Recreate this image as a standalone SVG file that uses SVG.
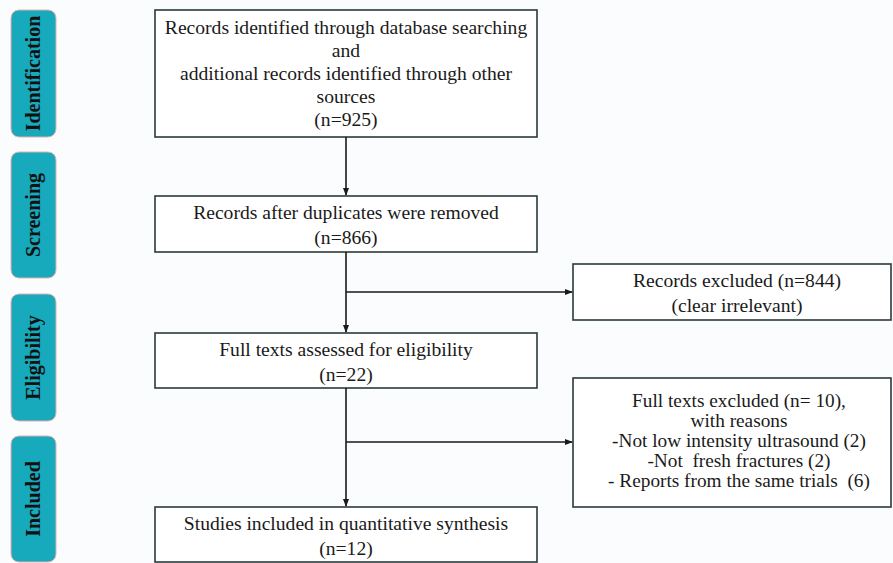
<svg xmlns="http://www.w3.org/2000/svg" width="893" height="563" viewBox="0 0 893 563">
<defs>
<marker id="ah" markerWidth="8" markerHeight="8" refX="7" refY="4" orient="auto" markerUnits="userSpaceOnUse">
<path d="M0,1 L8,4 L0,7 Z" fill="#1a1a1a"/>
</marker>
<style>
.stage{fill:#17a9bc;stroke:#e8b0b0;stroke-width:1}
.stxt{font-family:"Liberation Serif","Times New Roman",serif;font-weight:bold;font-size:20px;fill:#111;text-anchor:middle}
.box{fill:#ffffff;stroke:#2b3a3a;stroke-width:1.6}
.t{font-family:"Liberation Serif","Times New Roman",serif;font-size:19.6px;fill:#1a1a1a;text-anchor:middle}
.ts{font-family:"Liberation Serif","Times New Roman",serif;font-size:19.3px;fill:#1a1a1a;text-anchor:middle}
.c{stroke:#1a1a1a;stroke-width:1.6;fill:none}
</style>
</defs>
<rect x="0" y="0" width="893" height="563" fill="#fbfcfe"/>
<g id="stage-identification"><rect class="stage" x="11" y="10" width="45" height="127" rx="8"/><text class="stxt" transform="translate(40,73.5) rotate(-90)">Identification</text></g>
<g id="stage-screening"><rect class="stage" x="11" y="152" width="45" height="126" rx="8"/><text class="stxt" transform="translate(40,215) rotate(-90)">Screening</text></g>
<g id="stage-eligibility"><rect class="stage" x="11" y="294" width="45" height="127" rx="8"/><text class="stxt" transform="translate(40,357.5) rotate(-90)">Eligibility</text></g>
<g id="stage-included"><rect class="stage" x="11" y="436" width="45" height="126" rx="8"/><text class="stxt" transform="translate(40,499) rotate(-90)">Included</text></g>

<g id="box-identified"><rect class="box" x="155" y="10" width="382" height="127"/>
<text class="t" x="346" y="34">Records identified through database searching</text>
<text class="t" x="346" y="57">and</text>
<text class="t" x="346" y="80">additional records identified through other</text>
<text class="t" x="346" y="103">sources</text>
<text class="t" x="346" y="126">(n=925)</text></g>
<g id="box-duplicates"><rect class="box" x="155" y="196" width="382" height="56"/>
<text class="t" x="346" y="219">Records after duplicates were removed</text>
<text class="t" x="346" y="244">(n=866)</text></g>
<g id="box-fulltexts"><rect class="box" x="155" y="333" width="382" height="55"/>
<text class="t" x="346" y="356">Full texts assessed for eligibility</text>
<text class="t" x="346" y="381">(n=22)</text></g>
<g id="box-included"><rect class="box" x="155" y="507" width="382" height="55"/>
<text class="t" x="346" y="530">Studies included in quantitative synthesis</text>
<text class="t" x="346" y="555">(n=12)</text></g>
<g id="box-excluded1"><rect class="box" x="573" y="264" width="318" height="56"/>
<text class="t" x="737" y="287">Records excluded (n=844)</text>
<text class="t" x="737" y="312">(clear irrelevant)</text></g>
<g id="box-excluded2"><rect class="box" x="573" y="378" width="318" height="129"/>
<text class="ts" x="739" y="407">Full texts excluded (n= 10),</text>
<text class="ts" x="739" y="427">with reasons</text>
<text class="ts" x="739" y="447">-Not low intensity ultrasound (2)</text>
<text class="ts" x="739" y="467" xml:space="preserve">-Not  fresh fractures (2)</text>
<text class="ts" x="739" y="487" xml:space="preserve">- Reports from the same trials  (6)</text></g>

<g id="connectors">
<line class="c" x1="346" y1="137" x2="346" y2="195" marker-end="url(#ah)"/>
<line class="c" x1="346" y1="252" x2="346" y2="332" marker-end="url(#ah)"/>
<line class="c" x1="346" y1="292" x2="572" y2="292" marker-end="url(#ah)"/>
<line class="c" x1="346" y1="388" x2="346" y2="506" marker-end="url(#ah)"/>
<line class="c" x1="346" y1="442" x2="572" y2="442" marker-end="url(#ah)"/>
</g>
</svg>
